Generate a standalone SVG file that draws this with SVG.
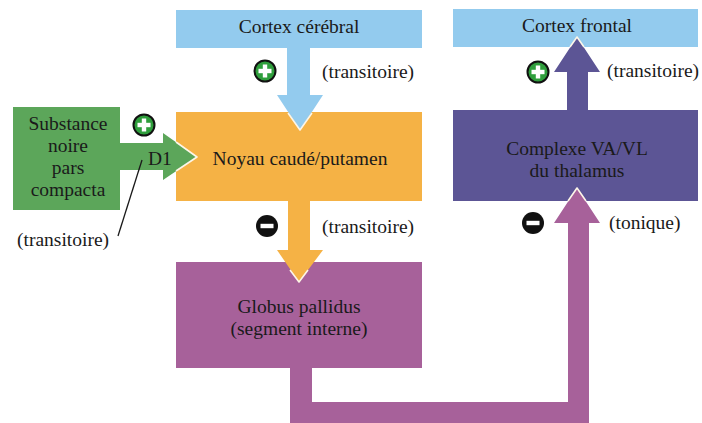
<svg xmlns="http://www.w3.org/2000/svg" xmlns:xlink="http://www.w3.org/1999/xlink" width="702" height="423" viewBox="0 0 702 423">
<style>
text{font-family:"Liberation Serif","Times New Roman",serif;font-size:19.5px;fill:#1a1a1a}
.c{text-anchor:middle}
.blue{fill:#93cbee}
.orange{fill:#f5b245}
.green{fill:#5ca65a}
.pink{fill:#a7619a}
.slate{fill:#5c5595}
.edge{fill:none;stroke:#fdf6e8;stroke-width:1.6;stroke-linejoin:round}
</style>
<defs>
<g id="plus">
<circle r="10.5" fill="#2f9e3c" stroke="#111" stroke-width="2"/>
<rect x="-6.5" y="-2.2" width="13" height="4.4" fill="#fff"/>
<rect x="-2.2" y="-6.5" width="4.4" height="13" fill="#fff"/>
</g>
<g id="minus">
<circle r="11" fill="#111"/>
<rect x="-6.5" y="-2.2" width="13" height="4.4" fill="#fff"/>
</g>
</defs>
<rect width="702" height="423" fill="#fff"/>

<g id="cortex-cerebral">
<rect class="blue" x="176" y="10" width="246" height="38"/>
<text class="c" x="299" y="33">Cortex cérébral</text>
</g>
<g id="cortex-frontal">
<rect class="blue" x="453" y="9" width="245" height="38"/>
<text class="c" x="577" y="32">Cortex frontal</text>
</g>
<g id="noyau">
<rect class="orange" x="176" y="112" width="246" height="89"/>
<text class="c" x="300" y="165">Noyau caudé/putamen</text>
</g>
<g id="substance-noire">
<rect class="green" x="13" y="107" width="107" height="103"/>
<text class="c" x="68" y="130">Substance</text>
<text class="c" x="68" y="152">noire</text>
<text class="c" x="68" y="174">pars</text>
<text class="c" x="68" y="196">compacta</text>
</g>
<g id="thalamus">
<rect class="slate" x="453" y="110" width="245" height="91"/>
<text class="c" x="577" y="155">Complexe VA/VL</text>
<text class="c" x="577" y="177">du thalamus</text>
</g>
<g id="globus">
<rect class="pink" x="176" y="262" width="246" height="106"/>
<text class="c" x="299" y="313">Globus pallidus</text>
<text class="c" x="299" y="335">(segment interne)</text>
</g>

<g id="connectors">
<polygon class="blue" points="287,47 310,47 310,95 323,95 300,130 277,95 287,95"/>
<polyline class="edge" points="288,113 300,130 312,113"/>
<polygon class="green" points="119,143 163,143 163,133 197,157 163,180 163,170 119,170"/>
<polyline class="edge" points="176,142 197,157 176,171"/>
<polygon class="orange" points="288,200 310,200 310,250 323,250 299,282 277,250 288,250"/>
<polyline class="edge" points="290,270 299,282 308,270"/>
<polygon class="slate" points="567,111 588,111 588,72 600,72 577,37 554,72 567,72"/>
<polyline class="edge" points="570,47 577,37 584,47"/>
<polygon class="pink" points="290,367 290,423 589,423 589,223 600,223 577,188 554,223 568,223 568,402 312,402 312,367"/>
<polyline class="edge" points="568,201 577,188 586,201"/>
<line x1="142" y1="160" x2="118" y2="236" stroke="#1a1a1a" stroke-width="1.3"/>
</g>

<g id="labels">
<use xlink:href="#plus" x="265" y="71"/>
<use xlink:href="#plus" x="144" y="125"/>
<use xlink:href="#plus" x="538" y="72"/>
<use xlink:href="#minus" x="267" y="226"/>
<use xlink:href="#minus" x="533" y="223"/>
<text x="148" y="165">D1</text>
<text x="322" y="78">(transitoire)</text>
<text x="322" y="233">(transitoire)</text>
<text x="607" y="77">(transitoire)</text>
<text x="609" y="229">(tonique)</text>
<text x="17" y="246">(transitoire)</text>
</g>
</svg>
